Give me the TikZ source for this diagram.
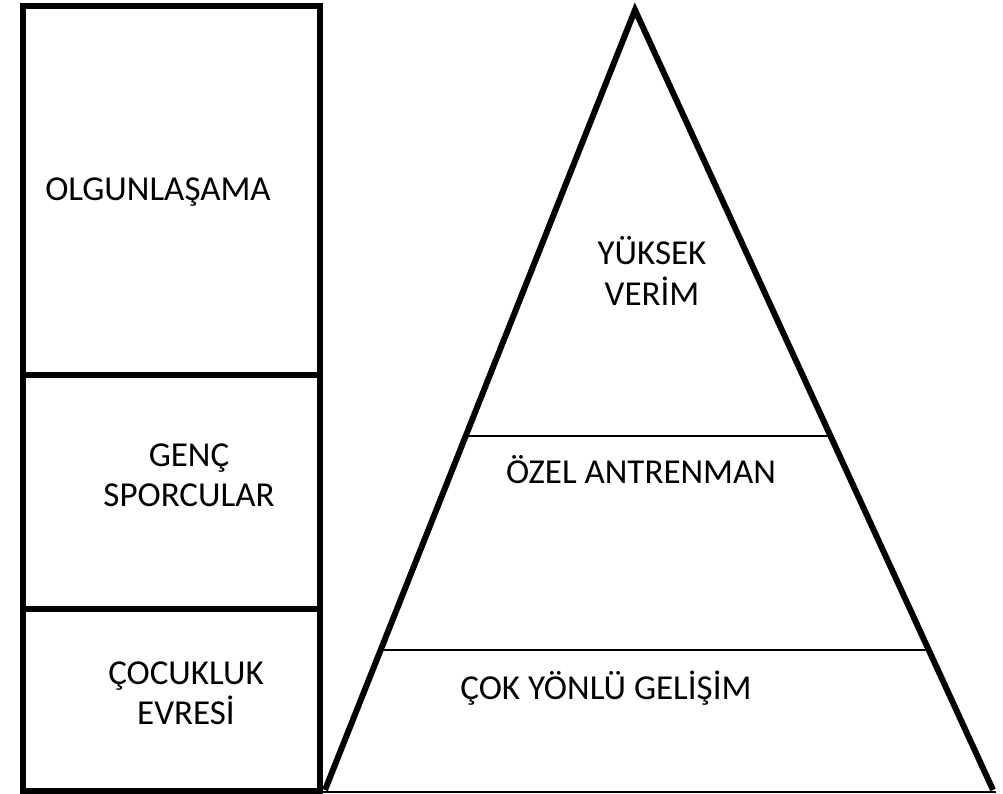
\documentclass[tikz,border=0pt]{standalone}
\usepackage{fontspec}
\setmainfont{Carlito}
\usetikzlibrary{calc}
\tikzset{
  thick line/.style={line width=6pt, line join=miter},
  thin line/.style={line width=1.6pt},
  lbl/.style={font=\fontsize{35}{40}\selectfont, inner sep=0pt, align=center, anchor=base},
}
\begin{document}
\begin{tikzpicture}[x=1pt,y=-1pt]
\useasboundingbox[fill=white] (0,0) rectangle (1003,794);
% left column
\coordinate (tl) at (23,6.5);
\coordinate (br) at (320,790.5);
\draw[thick line] (tl) rectangle (br);
\coordinate (d1l) at (23,375); \coordinate (d1r) at (320,375);
\coordinate (d2l) at (23,609); \coordinate (d2r) at (320,609);
\draw[thick line] (d1l) -- (d1r);
\draw[thick line] (d2l) -- (d2r);
% pyramid
\coordinate (apex) at (635,10);
\coordinate (bl) at (325,790);
\coordinate (brt) at (993,790);
\coordinate (bbl) at (323,791.7);
\coordinate (bbr) at (996,791.7);
\draw[thin line] (bbl) -- (bbr);
\draw[thick line] (bl) -- (apex) -- (brt);
\coordinate (l1a) at ($(apex)!0.546!(bl)$);
\coordinate (l1b) at ($(apex)!0.546!(brt)$);
\coordinate (l2a) at ($(apex)!0.8205!(bl)$);
\coordinate (l2b) at ($(apex)!0.8205!(brt)$);
\draw[thin line] (l1a) -- (l1b);
\draw[thin line] (l2a) -- (l2b);
% labels (base = baseline of last line)
\node[lbl] (olg) at (158,200.7) {OLGUNLAŞAMA};
\node[lbl] (genc) at (189,506) {GENÇ\\SPORCULAR};
\node[lbl] (cocuk) at (186,724) {ÇOCUKLUK\\EVRESİ};
\node[lbl] (yuksek) at (652,305) {YÜKSEK\\VERİM};
\node[lbl] (ozel) at (641,483) {ÖZEL ANTRENMAN};
\node[lbl] (cok) at (606,699) {ÇOK YÖNLÜ GELİŞİM};
\end{tikzpicture}
\end{document}
